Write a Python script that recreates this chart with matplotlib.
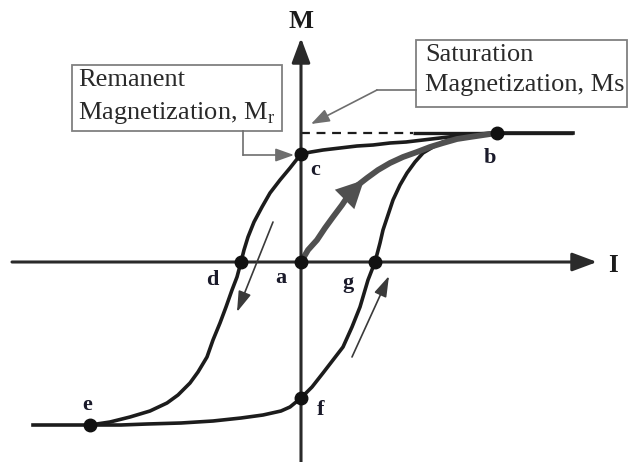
import matplotlib
matplotlib.use("Agg")
import matplotlib.pyplot as plt
from matplotlib.patches import Rectangle

plt.rcParams['font.family'] = ['Liberation Serif', 'DejaVu Serif']
plt.rcParams['mathtext.fontset'] = 'custom'
plt.rcParams['mathtext.rm'] = 'Liberation Serif'

# Hysteresis loop of a ferromagnet: magnetization M versus current I (arbitrary units)
# Descending branch: saturation b -> remanence c -> coercive point d -> negative saturation e
desc_I = [272, 196, 176, 156, 139, 122, 105, 89, 72, 56, 39, 22, 10, 0,
          -11, -21, -31, -39, -47, -53, -57, -60, -64, -69, -75, -81, -88, -94,
          -103, -111, -123, -134, -151, -171, -191, -211, -268]
desc_M = [129, 129, 128, 126, 124, 122, 120, 119, 117, 116, 114, 112, 110, 108,
          94, 82, 69, 55, 40, 25, 12, 0, -15, -28, -45, -61, -78, -95,
          -110, -121, -133, -141, -149, -155, -160, -163, -163]

# Ascending branch: e -> f -> g -> b
asc_I = [-211, -180, -154, -120, -88, -60, -38, -20, -11, 0,
         11, 22, 32, 42, 51, 59, 67, 74, 79, 82, 87, 92, 99, 106, 114, 122,
         132, 142, 156, 169, 196]
asc_M = [-163, -163, -162, -161, -159, -156, -153, -149, -145, -136,
         -125, -111, -98, -85, -65, -45, -18, 0, 19, 32, 47, 62, 77, 89, 100, 109,
         115, 120, 124, 127, 129]

# Initial magnetization curve from the demagnetized state a up to b
init_I = [0, 7, 16, 24, 32, 41, 49, 57, 66, 77, 89, 102, 116, 129, 142, 156, 169, 196]
init_M = [0, 12, 22, 34, 45, 57, 69, 77, 84, 92, 99, 105, 110, 115, 119, 123, 125, 129]

# Labelled states on the loop
pt_names = ['a', 'b', 'c', 'd', 'e', 'f', 'g']
pt_I = [0, 196, 0, -60, -211, 0, 74]
pt_M = [0, 129, 108, 0, -163, -136, 0]

M_sat = 129

fig = plt.figure(figsize=(6.29, 4.62), dpi=100)
ax = fig.add_axes([0, 0, 1, 1])
ax.set_xlim(-301, 328)
ax.set_ylim(-200, 262)
ax.axis('off')

ink = '#1c1c1c'
gray = '#6e6e6e'

# Axes with arrow heads
axis_arrow = dict(arrowstyle='-|>,head_length=0.75,head_width=0.28', lw=2.2,
                  color='#2a2a2a', mutation_scale=20, shrinkA=0, shrinkB=0)
ax.annotate('', xy=(296, 0), xytext=(-289, 0), arrowprops=axis_arrow)
ax.annotate('', xy=(0, 224), xytext=(0, -200), arrowprops=axis_arrow)
ax.text(0, 240, 'M', ha='center', va='center', fontsize=19, fontweight='bold', color=ink)
ax.text(312, -4, 'I', ha='center', va='center', fontsize=18, fontweight='bold', color=ink)

# Saturation level
ax.plot([0, 112], [M_sat, M_sat], ls=(0, (4, 3)), lw=1.6, color=ink)
ax.plot([112, 272], [M_sat, M_sat], lw=2.4, color=ink, solid_capstyle='butt')

# Loop branches
ax.plot(desc_I, desc_M, lw=2.6, color=ink, solid_joinstyle='round')
ax.plot(asc_I, asc_M, lw=2.6, color=ink, solid_joinstyle='round')
ax.plot(init_I, init_M, lw=4.2, color='#505050', solid_joinstyle='round', solid_capstyle='round')
ax.annotate('', xy=(63, 82), xytext=(44, 63),
            arrowprops=dict(arrowstyle='-|>,head_length=0.9,head_width=0.45',
                            color='#505050', lw=0, mutation_scale=22, shrinkA=0, shrinkB=0))

# Direction-of-travel arrows
thin = dict(arrowstyle='-|>,head_length=0.7,head_width=0.22', lw=1.2,
            color='#3a3a3a', mutation_scale=18, shrinkA=0, shrinkB=0)
ax.annotate('', xy=(-64, -50), xytext=(-28, 40), arrowprops=thin)
ax.annotate('', xy=(88, -14), xytext=(51, -95), arrowprops=thin)

# State markers and letters
ax.plot(pt_I, pt_M, 'o', ms=9, color='#111111', zorder=5)
label_offsets = {'a': (-20, -16), 'b': (-7, -25), 'c': (14, -16), 'd': (-29, -18),
                 'e': (-3, 20), 'f': (20, -12), 'g': (-27, -21)}
for name, x, y in zip(pt_names, pt_I, pt_M):
    dx, dy = label_offsets[name]
    ax.text(x + dx, y + dy, name, ha='center', va='center', fontsize=16,
            fontweight='bold', color='#1a1a2a')

# Annotation boxes
box_kw = dict(fill=False, ec='#808080', lw=1.3)
ax.add_patch(Rectangle((-229, 131), 210, 66, **box_kw))
ax.text(-223, 182, 'Remanent', ha='left', va='center', fontsize=19, color='#2a2a2a')
ax.text(-223, 149, r'Magnetization, M$_\mathrm{r}$', ha='left', va='center',
        fontsize=19, color='#2a2a2a')

ax.add_patch(Rectangle((115, 155), 211, 67, **box_kw))
ax.text(124, 207, 'Saturation', ha='left', va='center', fontsize=19, color='#2a2a2a')
ax.text(124, 177, 'Magnetization, Ms', ha='left', va='center', fontsize=19, color='#2a2a2a')

# Leader arrows from the boxes
lead = dict(arrowstyle='-|>,head_length=0.7,head_width=0.25', lw=1.2,
            color=gray, mutation_scale=16, shrinkA=0, shrinkB=0)
ax.plot([-58, -58], [131, 107], lw=1.2, color=gray)
ax.annotate('', xy=(-7, 107), xytext=(-58, 107), arrowprops=lead)
ax.plot([115, 76], [172, 172], lw=1.2, color=gray)
ax.annotate('', xy=(10, 138), xytext=(76, 172), arrowprops=lead)

fig.savefig('out.png', dpi=100)
